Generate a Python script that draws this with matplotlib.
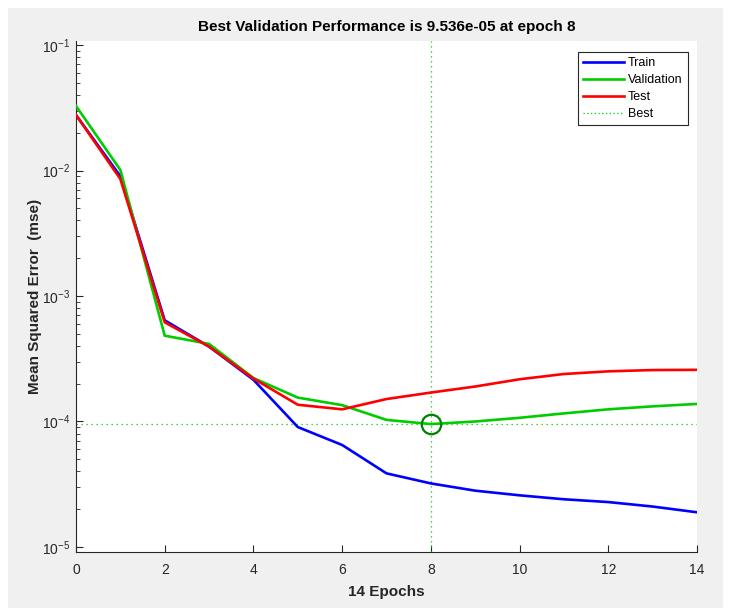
import matplotlib
matplotlib.use("Agg")
import matplotlib.pyplot as plt
from matplotlib.patches import Rectangle
from matplotlib.lines import Line2D
import numpy as np

epochs = [0, 1, 2, 3, 4, 5, 6, 7, 8, 9, 10, 11, 12, 13, 14]
train = [2.77e-2, 9.0e-3, 6.4e-4, 3.95e-4, 2.15e-4, 9.03e-5, 6.5e-5, 3.86e-5,
         3.21e-5, 2.81e-5, 2.58e-5, 2.40e-5, 2.28e-5, 2.10e-5, 1.89e-5]
validation = [3.27e-2, 1.01e-2, 4.83e-4, 4.15e-4, 2.22e-4, 1.55e-4, 1.35e-4, 1.03e-4,
              9.536e-5, 1.0e-4, 1.07e-4, 1.16e-4, 1.25e-4, 1.32e-4, 1.38e-4]
test = [2.77e-2, 8.55e-3, 6.17e-4, 3.95e-4, 2.2e-4, 1.36e-4, 1.25e-4, 1.51e-4,
        1.70e-4, 1.90e-4, 2.17e-4, 2.39e-4, 2.51e-4, 2.57e-4, 2.58e-4]
best_epoch = 8
best_perf = 9.536e-05
xticks = [0, 2, 4, 6, 8, 10, 12, 14]
yticks = [1e-5, 1e-4, 1e-3, 1e-2, 1e-1]
ytick_labels = [r"$10^{-5}$", r"$10^{-4}$", r"$10^{-3}$", r"$10^{-2}$", r"$10^{-1}$"]

plt.rcParams['font.family'] = ['Liberation Sans', 'DejaVu Sans']
plt.rcParams['mathtext.fontset'] = 'custom'
plt.rcParams['mathtext.rm'] = 'Liberation Sans'
plt.rcParams['mathtext.it'] = 'Liberation Sans'
plt.rcParams['mathtext.default'] = 'regular'

W, H = 729, 608
fig = plt.figure(figsize=(W / 100, H / 100), dpi=100)
fig.patch.set_facecolor('white')
# gray figure panel
fig.patches.append(Rectangle((8 / W, 0), (723 - 8) / W, (H - 8) / H,
                             transform=fig.transFigure, facecolor='#f0f0f0',
                             edgecolor='none', zorder=-10))

ax = fig.add_axes([76 / W, 1 - 552 / H, (697 - 76) / W, (552 - 41) / H])
ax.set_facecolor('white')

ax.plot(epochs, train, color=(0, 0, 1), lw=1.9, label='Train', zorder=3)
ax.plot(epochs, validation, color=(0, 0.8, 0), lw=1.9, label='Validation', zorder=3)
ax.plot(epochs, test, color=(1, 0, 0), lw=1.9, label='Test', zorder=4)
ax.axvline(best_epoch, color=(0, 0.8, 0), lw=0.9, ls=(0, (1, 3)), zorder=2)
ax.axhline(best_perf, color=(0, 0.8, 0), lw=0.9, ls=(0, (1, 3)), zorder=2, label='Best')
ax.plot([best_epoch], [best_perf], 'o', ms=14, mfc='none', mec=(0, 0.5, 0), mew=1.6, zorder=5)

ax.set_yscale('log')
ax.set_xlim(0, 14)
ax.set_ylim(10 ** -5.04, 10 ** -0.968)
ax.set_xticks(xticks)
ax.set_xticklabels([str(t) for t in xticks])
ax.set_yticks(yticks)
ax.set_yticklabels(ytick_labels)

for s in ['top', 'right']:
    ax.spines[s].set_visible(False)
for s in ['left', 'bottom']:
    ax.spines[s].set_color('#262626')
    ax.spines[s].set_linewidth(0.8)

ax.tick_params(which='both', direction='in', colors='#262626', labelcolor='#262626',
               labelsize=10)
ax.tick_params(which='major', length=5, width=0.8)
ax.tick_params(which='minor', length=3, width=0.6)
ax.tick_params(axis='x', pad=8)
ax.tick_params(axis='y', pad=4)

ax.set_title('Best Validation Performance is 9.536e-05 at epoch 8',
             fontsize=11, fontweight='bold', color='black', pad=7)
ax.set_xlabel('14 Epochs', fontsize=11, fontweight='bold', color='#262626', labelpad=6)
ax.set_ylabel('Mean Squared Error  (mse)', fontsize=11, fontweight='bold',
              color='#262626', labelpad=0)

handles = [Line2D([], [], color=(0, 0, 1), lw=1.9),
           Line2D([], [], color=(0, 0.8, 0), lw=1.9),
           Line2D([], [], color=(1, 0, 0), lw=1.9),
           Line2D([], [], color=(0, 0.8, 0), lw=0.9, ls=(0, (1, 2)))]
leg = ax.legend(handles, ['Train', 'Validation', 'Test', 'Best'], loc='upper right',
                bbox_to_anchor=(0.985, 0.978), fontsize=9, frameon=True, fancybox=False,
                edgecolor='#262626', framealpha=1, handlelength=3.3, handletextpad=0.3,
                labelspacing=0.4, borderpad=0.4, borderaxespad=0)
leg.get_frame().set_linewidth(0.8)

fig.savefig('out.png', dpi=100, facecolor=fig.get_facecolor())
